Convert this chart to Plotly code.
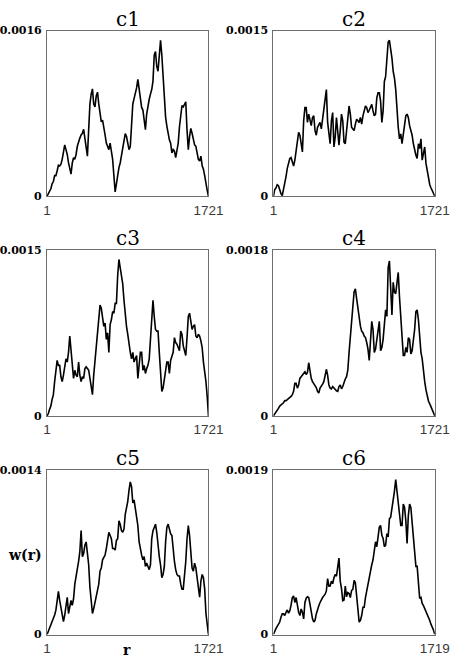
import numpy as np
import plotly.graph_objects as go

# w(r) values, in units of 1e-5, evenly spaced in r from 1 to r_max
c1 = [0, 2.5, 5.7, 7.2, 12.0, 14.2, 19.9, 19.9, 24.6, 29.9, 29.3, 30.9, 35.6, 43.5, 49.6, 45.0,
      40.3, 32.4, 24.6, 21.4, 32.1, 37.2, 35.6, 40.3, 48.2, 52.9, 56.1, 59.2, 60.8, 64.6, 54.5,
      43.5, 38.7, 64.3, 89.1, 98.6, 103.6, 89.1, 86.3, 96.9, 100.5, 89.1, 79.7, 71.8, 73.4, 63.9,
      59.2, 51.3, 48.2, 45.0, 51.3, 41.9, 35.6, 19.8, 4.1, 12.0, 23.0, 27.7, 32.1, 40.3, 44.7,
      56.1, 60.5, 57.6, 52.6, 45.0, 48.0, 63.9, 89.1, 94.2, 98.6, 104.6, 112.8, 103.0, 92.4, 85.7,
      83.2, 74.7, 64.3, 79.4, 89.1, 93.6, 98.6, 103.0, 111.2, 136.4, 139.6, 125.3, 120.7, 133.2,
      150.5, 136.4, 114.3, 92.4, 76.4, 67.7, 60.8, 54.5, 51.3, 41.9, 45.0, 43.5, 37.2, 45.0, 51.3,
      67.1, 80.0, 87.6, 86.3, 89.1, 91.1, 63.9, 45.0, 57.6, 65.5, 60.8, 54.5, 49.6, 48.2, 40.3,
      35.6, 34.0, 38.7, 29.3, 26.1, 19.9, 10.4, 5.7, 0]
c2 = [0, 5.9, 7.4, 10.4, 9.5, 4.5, 2.4, 0.6, 5.9, 10.4, 17.8, 25.2, 31.2, 34.2, 35.0, 30.3, 27.3,
      32.7, 40.1, 50.5, 57.8, 55.2, 47.5, 40.1, 68.3, 80.2, 80.2, 66.8, 74.3, 69.8, 63.9, 71.3,
      72.8, 59.4, 55.2, 62.4, 65.3, 66.8, 60.9, 69.8, 77.2, 89.1, 96.5, 66.8, 53.5, 47.5, 68.3,
      75.7, 44.6, 53.5, 71.3, 59.4, 46.3, 59.4, 74.3, 68.3, 49.0, 47.5, 59.4, 69.8, 81.7, 74.3,
      62.4, 60.9, 59.4, 65.3, 69.8, 68.3, 66.8, 71.3, 65.3, 72.8, 77.2, 81.7, 80.2, 75.7, 77.8,
      81.7, 83.2, 77.2, 72.8, 74.3, 89.1, 93.6, 93.6, 86.1, 66.8, 77.2, 103.9, 108.4, 121.7, 139.6,
      141.1, 133.7, 125.1, 112.9, 106.9, 96.5, 77.2, 62.4, 51.9, 56.4, 47.5, 55.0, 65.3, 72.8,
      74.3, 71.3, 63.9, 59.4, 55.2, 47.5, 41.6, 37.1, 34.2, 47.5, 43.1, 51.9, 32.7, 40.1, 44.6,
      29.7, 22.3, 16.3, 10.4, 7.4, 4.5, 1.5, 0]
c3 = [0, 2.1, 5.9, 8.9, 14.8, 19.2, 31.0, 41.3, 50.2, 45.7, 45.7, 35.4, 31.0, 36.9, 44.3, 51.6,
      48.7, 57.5, 72.3, 60.5, 51.6, 33.9, 41.3, 36.9, 35.4, 48.7, 36.9, 31.0, 35.4, 33.9, 42.8,
      44.3, 42.8, 41.3, 33.9, 25.1, 19.2, 36.9, 48.7, 60.5, 75.2, 87.0, 100.3, 97.4, 87.0, 81.1,
      84.1, 69.3, 75.2, 57.5, 82.6, 87.0, 94.4, 92.9, 101.8, 101.8, 127.0, 141.6, 134.2, 128.3,
      119.5, 104.7, 91.5, 81.1, 73.8, 63.4, 57.5, 51.6, 57.5, 48.7, 51.6, 54.6, 33.9, 48.7, 57.5,
      57.5, 41.3, 45.7, 38.4, 42.8, 45.7, 51.6, 66.4, 81.1, 104.7, 90.0, 78.2, 76.7, 76.7, 57.5,
      42.8, 22.1, 25.1, 33.9, 41.3, 48.7, 48.7, 38.4, 50.2, 54.6, 57.5, 70.8, 66.4, 64.9, 62.0,
      59.0, 76.7, 73.8, 63.4, 59.0, 54.6, 70.8, 90.0, 92.9, 87.0, 78.2, 81.1, 82.6, 72.3, 70.8,
      73.8, 72.3, 67.9, 61.9, 48.7, 41.3, 31.0, 17.7, 0]
c4 = [0, 1.8, 3.5, 6.0, 8.1, 10.6, 11.7, 12.4, 14.2, 16.6, 16.6, 17.7, 18.8, 19.5, 21.2, 23.0,
      26.6, 35.4, 35.4, 30.1, 33.6, 40.7, 42.5, 44.3, 46.0, 47.8, 45.0, 47.1, 57.7, 47.8, 40.7,
      37.2, 35.4, 33.6, 30.8, 26.6, 24.8, 30.1, 31.9, 34.5, 37.2, 44.3, 50.6, 44.3, 33.6, 30.1,
      29.4, 31.9, 30.1, 28.3, 27.3, 26.6, 31.9, 33.6, 29.4, 31.9, 36.5, 40.0, 42.5, 49.6, 69.0,
      88.5, 97.4, 118.6, 134.5, 138.1, 127.4, 115.1, 102.7, 97.4, 92.0, 90.3, 86.7, 85.0, 79.7,
      72.6, 60.2, 83.2, 102.7, 93.8, 69.0, 72.6, 81.4, 90.3, 102.7, 70.8, 74.3, 83.2, 97.4, 115.1,
      108.0, 161.1, 168.2, 129.2, 109.7, 145.1, 134.5, 132.7, 145.1, 155.8, 129.2, 107.9, 76.1,
      65.5, 65.5, 74.3, 69.0, 84.9, 83.2, 67.3, 70.8, 81.4, 93.8, 113.3, 115.1, 104.4, 81.4, 69.0,
      61.9, 44.3, 37.2, 28.3, 21.2, 15.9, 13.1, 9.6, 6.0, 2.5, 0]
c5 = [0, 2.8, 5.5, 7.5, 10.2, 12.4, 16.6, 20.7, 31.7, 36.7, 29.0, 23.5, 17.9, 11.0, 16.6, 23.5,
      31.7, 17.9, 23.5, 29.0, 24.8, 30.4, 42.8, 48.3, 53.8, 62.1, 70.4, 88.3, 66.2, 68.9, 75.9,
      78.7, 69.0, 59.3, 40.0, 29.0, 17.9, 22.1, 27.6, 31.7, 40.0, 42.8, 53.8, 56.6, 63.5, 66.2,
      67.6, 73.1, 82.8, 86.9, 84.2, 81.4, 73.1, 73.1, 71.8, 80.0, 81.4, 96.6, 93.8, 88.3, 86.9,
      89.7, 102.1, 107.6, 113.2, 122.8, 129.7, 125.6, 111.8, 114.5, 107.6, 98.0, 92.5, 78.7, 71.8,
      67.6, 63.5, 66.2, 57.9, 60.7, 57.9, 55.2, 59.3, 81.4, 88.3, 91.1, 93.8, 86.9, 74.5, 66.2,
      59.3, 48.3, 51.1, 57.9, 78.7, 91.1, 93.8, 89.7, 85.6, 84.2, 69.0, 62.1, 55.2, 51.1, 49.7,
      49.7, 42.8, 38.6, 38.6, 48.3, 62.1, 81.4, 92.5, 84.2, 73.1, 56.6, 53.8, 60.7, 56.6, 48.3,
      41.4, 31.7, 45.5, 51.1, 48.3, 38.6, 17.9, 6.9, 0]
c6 = [0, 4.2, 6.8, 9.5, 12.5, 14.4, 20.0, 23.8, 23.8, 21.9, 25.7, 28.4, 24.6, 27.6, 34.0, 42.7,
      44.6, 37.0, 42.7, 31.4, 25.7, 21.9, 29.5, 25.7, 18.1, 37.0, 41.9, 43.5, 42.7, 35.2, 25.7,
      18.1, 14.4, 16.3, 23.8, 29.5, 33.3, 37.0, 40.8, 42.7, 44.6, 46.5, 50.3, 64.6, 55.9, 56.0,
      61.6, 58.6, 65.4, 69.2, 67.3, 76.7, 88.1, 61.6, 52.9, 38.9, 39.7, 55.9, 43.5, 48.4, 47.3,
      42.7, 51.0, 52.2, 62.4, 59.7, 42.7, 23.8, 14.4, 16.3, 21.9, 31.4, 31.4, 42.7, 50.3, 61.6,
      69.2, 76.7, 80.5, 86.2, 95.6, 107.0, 101.3, 116.4, 124.0, 125.9, 114.5, 110.8, 101.3, 103.2,
      116.4, 112.7, 133.4, 135.4, 144.7, 152.3, 165.5, 178.8, 167.4, 156.1, 139.0, 125.9, 125.8,
      150.4, 146.6, 131.5, 105.1, 137.2, 150.4, 146.6, 127.7, 106.9, 88.1, 78.6, 78.6, 57.8, 41.6,
      42.7, 35.9, 33.3, 30.2, 27.6, 22.7, 20.0, 16.3, 11.7, 8.7, 4.9, 0]

names = ["c1", "c2", "c3", "c4", "c5", "c6"]
series = [c1, c2, c3, c4, c5, c6]
r_max = [1721, 1721, 1721, 1721, 1721, 1719]
y_max = [0.0016, 0.0015, 0.0015, 0.0018, 0.0014, 0.0019]
y_max_labels = ["0.0016", "0.0015", "0.0015", "0.0018", "0.0014", "0.0019"]

W, H = 467, 669
col_x = [(43, 212), (280, 449)]
row_y = [(25, 194), (249, 418), (473, 641)]

fig = go.Figure()
for i, (nm, s) in enumerate(zip(names, series)):
    row, col = divmod(i, 2)
    vals = np.array(s) * 1e-5
    n = len(vals)
    r = np.linspace(1, r_max[i], n)
    xa = "x" if i == 0 else f"x{i+1}"
    ya = "y" if i == 0 else f"y{i+1}"
    fig.add_trace(go.Scatter(x=r, y=vals, mode="lines", xaxis=xa, yaxis=ya,
                             line=dict(color="black", width=1.6), showlegend=False,
                             hoverinfo="skip"))
    x0, x1 = col_x[col]
    yt, yb = row_y[row]
    axkey = "xaxis" if i == 0 else f"xaxis{i+1}"
    aykey = "yaxis" if i == 0 else f"yaxis{i+1}"
    fig.layout[axkey] = dict(domain=[x0 / W, x1 / W], range=[1, r_max[i]], anchor=ya,
                             showgrid=False, zeroline=False, showline=True, mirror=True,
                             linecolor="#6e6e6e", linewidth=1.2, ticks="",
                             tickvals=[1, r_max[i]], ticktext=["1", str(r_max[i])],
                             tickfont=dict(family="Liberation Sans", size=13.5, color="#3a3a3a"),
                             ticklabelstandoff=1)
    fig.layout[aykey] = dict(domain=[1 - yb / H, 1 - yt / H], range=[0, y_max[i]], anchor=xa,
                             showgrid=False, zeroline=False, showline=True, mirror=True,
                             linecolor="#6e6e6e", linewidth=1.2, ticks="",
                             tickvals=[0, y_max[i]],
                             ticktext=["<b>0</b>", f"<b>{y_max_labels[i]}</b>"],
                             tickfont=dict(family="DejaVu Serif", size=11, color="black"),
                             ticklabelstandoff=2)
    fig.add_annotation(text=nm, x=(x0 + x1) / 2 / W, y=1 - (yt - 12) / H, xref="paper",
                       yref="paper", showarrow=False, xanchor="center", yanchor="middle",
                       font=dict(family="DejaVu Serif", size=20, color="black"))

fig.add_annotation(text="<b>w(r)</b>", x=0, y=1 - 560 / H, xref="paper", yref="paper",
                   showarrow=False, xanchor="left", yanchor="middle",
                   font=dict(family="DejaVu Serif", size=14, color="black"))
fig.add_annotation(text="<b>r</b>", x=127 / W, y=1 - 657 / H, xref="paper", yref="paper",
                   showarrow=False, xanchor="center", yanchor="middle",
                   font=dict(family="DejaVu Serif", size=14, color="black"))

fig.update_layout(width=W, height=H, margin=dict(l=0, r=0, t=0, b=0),
                  paper_bgcolor="white", plot_bgcolor="white")
fig.write_html("out.html")
